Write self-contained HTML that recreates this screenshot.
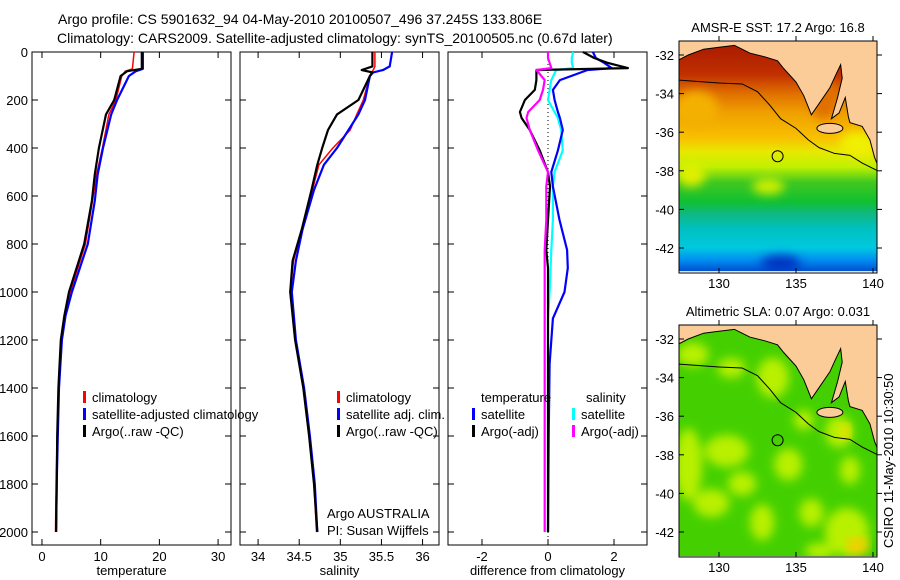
<!DOCTYPE html>
<html><head><meta charset="utf-8">
<style>
body{margin:0;background:#fff;}
svg{display:block;font-family:"Liberation Sans",sans-serif;}
text{fill:#000;}
</style></head>
<body>
<svg id="fig" width="900" height="580" viewBox="0 0 900 580" xmlns="http://www.w3.org/2000/svg">
<rect width="900" height="580" fill="#fff"/>
<text x="58" y="24" font-size="14">Argo profile: CS 5901632_94 04-May-2010 20100507_496 37.245S 133.806E</text>
<text x="57" y="43" font-size="14">Climatology: CARS2009. Satellite-adjusted climatology: synTS_20100505.nc (0.67d later)</text>
<g id="plots"></g>
<text x="0" y="0" font-size="13" transform="translate(893,548) rotate(-90)">CSIRO 11-May-2010 10:30:50</text>
</svg>
<script>
// ---------- data ----------
const tDepth = [0,70,80,100,200,260,400,510,620,800,1000,1100,1200,1400,1600,1800,2000];
const tArgo  = [17.0,17.0,14.5,13.4,12.3,10.9,9.7,9.0,8.5,7.2,4.6,3.8,3.2,2.8,2.6,2.5,2.4];
const tClim  = [15.7,15.4,14.2,13.6,12.6,11.4,10.3,9.3,8.6,7.4,4.8,3.9,3.3,2.8,2.6,2.4,2.3];
const tSat   = [17.2,17.2,16.0,14.8,12.8,11.8,10.4,9.5,9.0,7.8,5.1,4.0,3.4,2.9,2.7,2.5,2.4];
const sDepth = [0,60,75,85,100,200,260,325,400,470,575,740,870,1000,1200,1400,1600,1800,2000];
const sArgo  = [35.39,35.39,35.26,35.39,35.36,35.22,34.96,34.85,34.78,34.72,34.65,34.53,34.42,34.39,34.45,34.55,34.62,34.68,34.72];
const sClim  = [35.42,35.42,35.40,35.38,35.36,35.28,35.20,35.12,34.91,34.74,34.66,34.53,34.43,34.39,34.45,34.55,34.62,34.68,34.71];
const sSat   = [35.63,35.60,35.52,35.40,35.36,35.30,35.22,35.10,34.96,34.80,34.68,34.54,34.46,34.41,34.46,34.56,34.63,34.69,34.72];
const dDepth = [0,25,45,67,75,117,158,200,250,275,325,410,500,560,700,825,900,1000,1110,1300,1600,2000];
const dTArgo = [1.06,1.4,1.8,2.42,-0.35,-0.35,-0.4,-0.7,-0.85,-0.8,-0.55,-0.25,0.0,0.06,0.0,-0.05,0.0,0.0,0.0,0.0,0.0,0.0];
const dTSat  = [1.36,1.45,1.7,1.93,1.2,0.36,0.15,0.2,0.3,0.36,0.45,0.3,0.1,0.15,0.35,0.58,0.6,0.5,0.15,0.05,0.02,0.0];
const dSArgo = [0.0,0.0,0.05,0.1,-0.35,-0.1,-0.15,-0.25,-0.6,-0.65,-0.55,-0.3,0.0,-0.05,-0.05,-0.1,-0.1,-0.1,-0.1,-0.1,-0.1,-0.1];
const dSSat  = [0.76,0.72,0.72,0.76,0.25,0.1,0.05,0.0,0.2,0.3,0.4,0.45,0.2,0.15,0.15,0.1,0.08,0.05,0.0,0.0,0.0,0.0];
const depthTicks = [0,200,400,600,800,1000,1200,1400,1600,1800,2000];
const tTicks = [0,10,20,30];
const sTicks = [34,34.5,35,35.5,36];
const dTicks = [-2,0,2];
const latTicks = [-32,-34,-36,-38,-40,-42];
const lonTicks = [130,135,140];
const argoLon = 133.806, argoLat = -37.245;

const NS='http://www.w3.org/2000/svg';
const root=document.getElementById('plots');
function mk(tag,attrs,parent){const e=document.createElementNS(NS,tag);for(const k in attrs)e.setAttribute(k,attrs[k]);(parent||root).appendChild(e);return e;}
const Y0=52, Y1=545;
const yD = d => Y0 + d*0.24;

function panel(name,x0,x1,xmin,xmax,ticks,label,showY){
  const g=mk('g',{});
  
  
  const sx=v=>x0+(v-xmin)/(xmax-xmin)*(x1-x0);
  const box=mk('rect',{x:x0,y:Y0,width:x1-x0,height:Y1-Y0,fill:'none',stroke:'#000','stroke-width':1},g);
  
  
  depthTicks.forEach(d=>{
    const y=yD(d);
    mk('line',{x1:x0,x2:x0+6,y1:y,y2:y,stroke:'#000'},g);
    mk('line',{x1:x1,x2:x1-6,y1:y,y2:y,stroke:'#000'},g);
    if(showY){const t=mk('text',{x:x0-4,y:y+5,'font-size':13,'text-anchor':'end'},g);t.textContent=d;
      
      }
  });
  ticks.forEach(v=>{
    const x=sx(v);
    mk('line',{x1:x,x2:x,y1:Y0,y2:Y0+6,stroke:'#000'},g);
    mk('line',{x1:x,x2:x,y1:Y1,y2:Y1-6,stroke:'#000'},g);
    const t=mk('text',{x:x,y:Y1+16,'font-size':13,'text-anchor':'middle'},g);t.textContent=v;
    
    
  });
  const lt=mk('text',{x:(x0+x1)/2,y:575,'font-size':13,'text-anchor':'middle'},g);lt.textContent=label;
  
  
  return {g,sx};
}
function series(p,name,depths,vals,color,w){
  const pts=depths.map((d,i)=>p.sx(vals[i]).toFixed(1)+','+yD(d).toFixed(1)).join(' ');
  const l=mk('polyline',{points:pts,fill:'none',stroke:color,'stroke-width':w,'stroke-linejoin':'round'},p.g);
  
  
}
function legend(g,x,y,color,txt,name){
  if(color){mk('rect',{x:x,y:y-11,width:3,height:12,fill:color},g);}
  const t=mk('text',{x:x+(color?9:0),y:y,'font-size':13},g);t.textContent=txt;
  
  
}
// temperature panel
const p1=panel('temperature-panel',32,231,-1.7,32.2,tTicks,'temperature',true);
series(p1,'temp-climatology-line',tDepth,tClim,'#f00',1.5);
series(p1,'temp-satellite-line',tDepth,tSat,'#00f',2.2);
series(p1,'temp-argo-line',tDepth,tArgo,'#000',2.2);
legend(p1.g,83,402,'#f00','climatology','legend-climatology');
legend(p1.g,83,419,'#00f','satellite-adjusted climatology','legend-satellite');
legend(p1.g,83,436,'#000','Argo(..raw -QC)','legend-argo');
// salinity panel
const p2=panel('salinity-panel',240,439,33.78,36.2,sTicks,'salinity',false);
series(p2,'sal-climatology-line',sDepth,sClim,'#f00',1.5);
series(p2,'sal-satellite-line',sDepth,sSat,'#00f',2.2);
series(p2,'sal-argo-line',sDepth,sArgo,'#000',2.2);
legend(p2.g,337,402,'#f00','climatology','legend-sal-climatology');
legend(p2.g,337,419,'#00f','satellite adj. clim.','legend-sal-satellite');
legend(p2.g,337,436,'#000','Argo(..raw -QC)','legend-sal-argo');
legend(p2.g,327,518,null,'Argo AUSTRALIA','credit-argo-australia');
legend(p2.g,327,535,null,'PI: Susan Wijffels','credit-pi');
// difference panel
const p3=panel('difference-panel',448,647,-3.03,3.0,dTicks,'difference from climatology',false);
mk('line',{x1:p3.sx(0),x2:p3.sx(0),y1:Y0,y2:yD(2050),stroke:'#000','stroke-dasharray':'1,3'},p3.g);
series(p3,'diff-sal-sat-line',dDepth,dSSat,'#0ff',2.2);
series(p3,'diff-temp-sat-line',dDepth,dTSat,'#00f',2.2);
series(p3,'diff-temp-argo-line',dDepth,dTArgo,'#000',2.2);
series(p3,'diff-sal-argo-line',dDepth,dSArgo,'#f0f',2.2);
legend(p3.g,481,402,null,'temperature','legend-temperature-head');
legend(p3.g,586,402,null,'salinity','legend-salinity-head');
legend(p3.g,472,419,'#00f','satellite','legend-diff-temp-sat');
legend(p3.g,472,436,'#000','Argo(-adj)','legend-diff-temp-argo');
legend(p3.g,572,419,'#0ff','satellite','legend-diff-sal-sat');
legend(p3.g,572,436,'#f0f','Argo(-adj)','legend-diff-sal-argo');

// ---------- maps ----------
const coast=[[127.4,-32.25],[128,-32.0],[129,-31.7],[130,-31.6],[131,-31.5],[131.5,-31.7],[132,-31.9],[133,-32.1],[133.8,-32.3],[134.2,-32.7],[135,-33.4],[135.5,-34.1],[136.0,-35.1],[136.6,-34.4],[137.2,-33.7],[137.6,-33.0],[137.9,-32.5],[138.0,-33.2],[137.7,-34.2],[137.3,-35.3],[137.8,-35.0],[138.2,-34.2],[138.4,-35.2],[138.5,-35.5],[139.3,-35.7],[139.8,-36.4],[140.1,-37.3],[140.3,-37.7],[140.3,-31.2],[127.4,-31.2]];
const shelf=[[127.4,-33.3],[130,-33.45],[131.5,-33.5],[132.5,-33.9],[133.3,-34.6],[134,-35.3],[135,-35.8],[135.8,-36.4],[136.5,-36.8],[137.5,-37.1],[138.5,-37.2],[139.3,-37.6],[140.3,-38.0]];
const sstStops=[[-31.3,'#a81800'],[-33.0,'#c03000'],[-34.0,'#e07000'],[-35.0,'#f0a000'],[-36.3,'#f8c000'],[-37.0,'#e8e800'],[-37.8,'#c0f000'],[-38.6,'#40c820'],[-39.6,'#10c030'],[-40.2,'#10b880'],[-41.0,'#00c0c0'],[-42.0,'#00c8e0'],[-42.6,'#0090f0'],[-43.2,'#0050d0']];
function map(name,top,title,fillFn){
  const g=mk('g',{});
  
  
  const x0=679,x1=877,y1=top+232;
  const lx=l=>719+(l-130)*15.4, ly=a=>top+14+(-32-a)*19.3;
  const tt=mk('text',{x:778,y:top-9,'font-size':13,'text-anchor':'middle'},g);tt.textContent=title;
  
  
  const cid=name+'-clip';
  const cp=mk('clipPath',{id:cid},g);mk('rect',{x:x0,y:top,width:x1-x0,height:y1-top},cp);
  const inner=mk('g',{'clip-path':'url(#'+cid+')'},g);
  fillFn(inner,lx,ly,x0,x1,top,y1);
  const land=mk('polygon',{points:coast.map(p=>lx(p[0])+','+ly(p[1])).join(' '),fill:'#fccc98',stroke:'#000','stroke-width':1},inner);
  
  
  mk('ellipse',{cx:lx(137.2),cy:ly(-35.8),rx:13,ry:5,fill:'#fccc98',stroke:'#000'},inner);
  mk('polyline',{points:shelf.map(p=>lx(p[0])+','+ly(p[1])).join(' '),fill:'none',stroke:'#000','stroke-width':1},inner);
  const c=mk('circle',{cx:lx(argoLon),cy:ly(argoLat),r:5.5,fill:'none',stroke:'#000','stroke-width':1},inner);
  
  
  mk('rect',{x:x0,y:top,width:x1-x0,height:y1-top,fill:'none',stroke:'#000'},g);
  latTicks.forEach(a=>{const y=ly(a);
    mk('line',{x1:x0,x2:x0+5,y1:y,y2:y,stroke:'#000'},g);mk('line',{x1:x1,x2:x1+5,y1:y,y2:y,stroke:'#000'},g);
    const t=mk('text',{x:x0-5,y:y+5,'font-size':13,'text-anchor':'end'},g);t.textContent=a;
    
    });
  lonTicks.forEach(l=>{const x=lx(l);
    mk('line',{x1:x,x2:x,y1:top,y2:top-5,stroke:'#000'},g);mk('line',{x1:x,x2:x,y1:y1,y2:y1-5,stroke:'#000'},g);
    const t=mk('text',{x:x,y:y1+15,'font-size':13,'text-anchor':'middle'},g);t.textContent=l;
    
    });
}
map('sst-map',41,'AMSR-E SST: 17.2 Argo: 16.8',(g,lx,ly,x0,x1,t,b)=>{
  const d=mk('defs',{},g);
  const lg=mk('linearGradient',{id:'sstg',x1:0,y1:0,x2:0,y2:1,gradientUnits:'objectBoundingBox'},d);
  sstStops.forEach(s=>mk('stop',{offset:((ly(s[0])-t)/(b-t)).toFixed(3),'stop-color':s[1]},lg));
  const r=mk('rect',{x:x0,y:t,width:x1-x0,height:b-t,fill:'url(#sstg)'},g);
  
  
  const f=mk('filter',{id:'bl1'},g);mk('feGaussianBlur',{stdDeviation:5},f);
  const fg=mk('g',{filter:'url(#bl1)'},g);
  mk('ellipse',{cx:lx(128.5),cy:ly(-34.8),rx:22,ry:18,fill:'#f4b000'},fg);
  mk('ellipse',{cx:lx(136.8),cy:ly(-34.3),rx:14,ry:20,fill:'#e07000'},fg);
  mk('ellipse',{cx:lx(139),cy:ly(-36.6),rx:18,ry:12,fill:'#f0f000'},fg);
  mk('ellipse',{cx:lx(128.2),cy:ly(-38.2),rx:14,ry:12,fill:'#e0f000'},fg);
  mk('ellipse',{cx:lx(133.2),cy:ly(-38.8),rx:16,ry:8,fill:'#d0f000'},fg);
  mk('ellipse',{cx:lx(134),cy:ly(-42.8),rx:20,ry:8,fill:'#0030c0'},fg);
  mk('rect',{x:x0,y:ly(-43.2),width:x1-x0,height:10,fill:'#fff'},g);
});
map('sla-map',325,'Altimetric SLA: 0.07 Argo: 0.031',(g,lx,ly,x0,x1,t,b)=>{
  const r=mk('rect',{x:x0,y:t,width:x1-x0,height:b-t,fill:'#44d000'},g);
  
  
  const f=mk('filter',{id:'bl'},g);mk('feGaussianBlur',{stdDeviation:5},f);
  const blobs=[[128.0,-38.5,14,36],[130.5,-37.8,22,16],[129.5,-40.5,18,14],[131.5,-39.5,14,12],[134.5,-38.5,14,16],[132.8,-41.5,12,18],[136.0,-41.0,12,14],[138.3,-42.0,22,24],[137.8,-36.8,14,16],[133.5,-34.0,16,20],[128.3,-32.8,16,12],[130.8,-33.5,14,10],[135.5,-36.2,10,10],[138.5,-38.8,10,14],[136.5,-43.0,14,8]];
  const bg=mk('g',{filter:'url(#bl)'},g);
  blobs.forEach(bl=>mk('ellipse',{cx:lx(bl[0]),cy:ly(bl[1]),rx:bl[2],ry:bl[3],fill:'#b8f000'},bg));
  mk('ellipse',{cx:lx(139),cy:ly(-42.7),rx:12,ry:9,fill:'#f0d000',filter:'url(#bl)'},g);
  mk('ellipse',{cx:lx(138.2),cy:ly(-36.8),rx:6,ry:8,fill:'#e8e000',filter:'url(#bl)'},g);
  mk('rect',{x:x0,y:ly(-43.25),width:x1-x0,height:10,fill:'#fff'},g);
});
</script>
</body></html>
